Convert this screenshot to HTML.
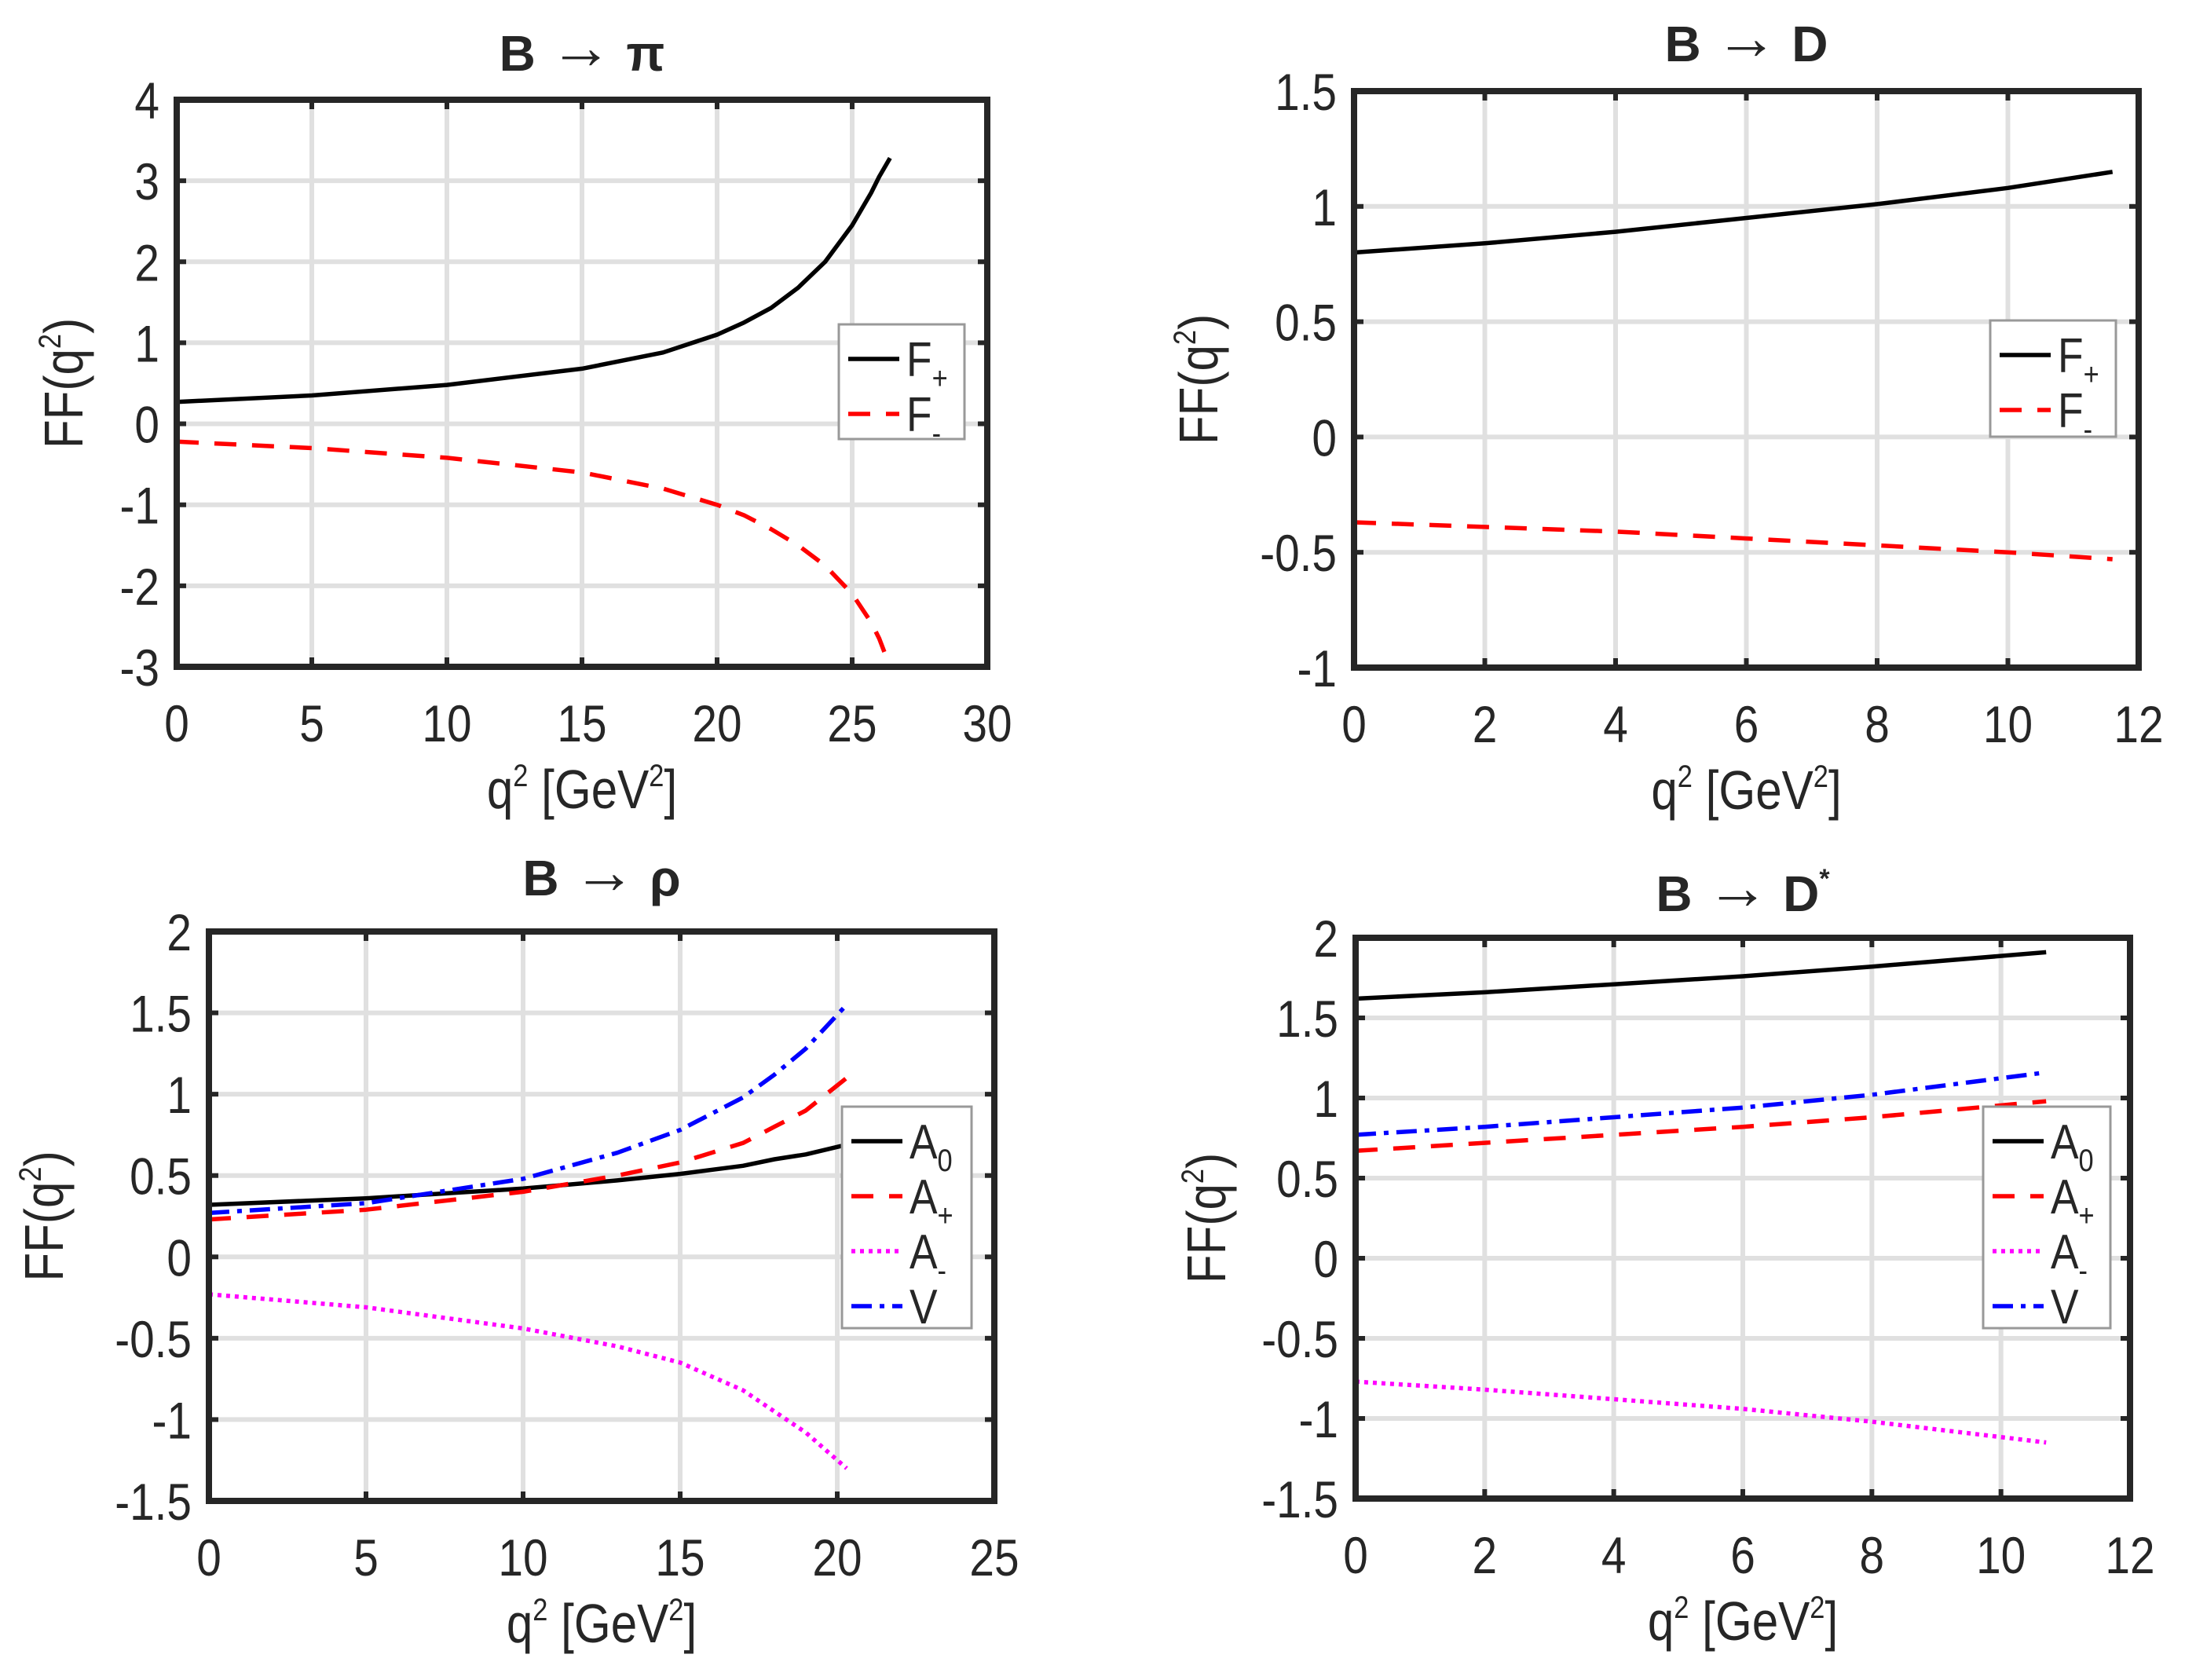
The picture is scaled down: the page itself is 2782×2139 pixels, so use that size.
<!DOCTYPE html>
<html><head><meta charset="utf-8"><style>
html,body{margin:0;padding:0;background:#fff;}
svg{display:block;}
text{font-family:"Liberation Sans Narrow","Liberation Sans",sans-serif;fill:#262626;}
</style></head><body>
<svg id="fig" width="2782" height="2139" viewBox="0 0 2782 2139" xmlns="http://www.w3.org/2000/svg"></svg>
<script>
// ---- data ----
const piQ = [0,5,10,15,18,20,21,22,23,24,25,25.7,26,26.4];
const piFplus = [0.27,0.35,0.48,0.68,0.88,1.1,1.25,1.43,1.68,2.0,2.45,2.85,3.05,3.28];
const piFminus = [-0.22,-0.3,-0.42,-0.6,-0.8,-1.0,-1.13,-1.3,-1.5,-1.75,-2.1,-2.45,-2.65,-3.0];

const dQ = [0,2,4,6,8,10,11.6];
const dFplus = [0.8,0.84,0.89,0.95,1.01,1.08,1.15];
const dFminus = [-0.37,-0.39,-0.41,-0.44,-0.47,-0.5,-0.53];

const rhoQ = [0,5,10,13,15,17,18,19,20.3];
const rhoA0 = [0.32,0.36,0.42,0.47,0.51,0.56,0.6,0.63,0.69];
const rhoAplus = [0.23,0.29,0.4,0.5,0.58,0.7,0.8,0.9,1.1];
const rhoAminus = [-0.23,-0.31,-0.44,-0.55,-0.65,-0.82,-0.95,-1.08,-1.3];
const rhoV = [0.27,0.33,0.48,0.64,0.78,0.98,1.12,1.28,1.55];

const dsQ = [0,2,4,6,8,10.7];
const dsA0 = [1.62,1.66,1.71,1.76,1.82,1.91];
const dsAplus = [0.67,0.72,0.77,0.82,0.88,0.98];
const dsAminus = [-0.77,-0.82,-0.88,-0.94,-1.02,-1.15];
const dsV = [0.77,0.82,0.88,0.94,1.02,1.16];

const piXTicks = [0,5,10,15,20,25,30];
const piYTicks = [-3,-2,-1,0,1,2,3,4];
const dXTicks = [0,2,4,6,8,10,12];
const dYTicks = [-1,-0.5,0,0.5,1,1.5];
const rhoXTicks = [0,5,10,15,20,25];
const rhoYTicks = [-1.5,-1,-0.5,0,0.5,1,1.5,2];
const dsXTicks = [0,2,4,6,8,10,12];
const dsYTicks = [-1.5,-1,-0.5,0,0.5,1,1.5,2];

const NS = "http://www.w3.org/2000/svg";
const svg = document.getElementById('fig');
function mk(tag, attrs, parent){
  const e = document.createElementNS(NS, tag);
  for (const k in attrs) e.setAttribute(k, attrs[k]);
  (parent||svg).appendChild(e);
  return e;
}
const styles = {
  solid:{stroke:'#000','stroke-dasharray':'none'},
  dash:{stroke:'#ff0000','stroke-dasharray':'28 20'},
  dot:{stroke:'#ff00ff','stroke-dasharray':'5 6'},
  dashdot:{stroke:'#0000ff','stroke-dasharray':'26 10 6 10'}
};
// narrow text helper: squeeze horizontally around anchor x
function ntext(parent, x, y, size, anchor, html, extra){
  const g = mk('g',{transform:`translate(${x} ${y}) scale(0.86 1)`},parent);
  const t = mk('text',Object.assign({x:0,y:0,'font-size':size,'text-anchor':anchor},extra||{}),g);
  t.innerHTML = html;
  return t;
}

function panel(cfg){
  const g = mk('g',{});
  
  
  const {L,R,T,B,xmin,xmax,ymin,ymax} = cfg;
  const sx = v => L + (v - xmin)/(xmax - xmin)*(R - L);
  const sy = v => B - (v - ymin)/(ymax - ymin)*(B - T);
  cfg.xt.forEach(v=>{ if(v>xmin && v<xmax){ const l=mk('line',{x1:sx(v),x2:sx(v),y1:T,y2:B,stroke:'#e0e0e0','stroke-width':6},g);
     }});
  cfg.yt.forEach(v=>{ if(v>ymin && v<ymax){ const l=mk('line',{x1:L,x2:R,y1:sy(v),y2:sy(v),stroke:'#e0e0e0','stroke-width':6},g);
     }});
  cfg.series.forEach(s=>{
    const pts = s.x.map((q,i)=>sx(q).toFixed(1)+','+sy(s.y[i]).toFixed(1)).join(' ');
    const st = styles[s.style];
    const p = mk('polyline',{points:pts,fill:'none',stroke:st.stroke,'stroke-width':5.5,'stroke-dasharray':st['stroke-dasharray'],'stroke-linejoin':'round'},g);
    
    
  });
  cfg.xt.forEach(v=>{
    mk('line',{x1:sx(v),x2:sx(v),y1:B,y2:B-12,stroke:'#262626','stroke-width':6},g);
    mk('line',{x1:sx(v),x2:sx(v),y1:T,y2:T+12,stroke:'#262626','stroke-width':6},g);
    const t = ntext(g, sx(v), B+95, 66, 'middle', String(v));
    
    
  });
  cfg.yt.forEach(v=>{
    mk('line',{x1:L,x2:L+12,y1:sy(v),y2:sy(v),stroke:'#262626','stroke-width':6},g);
    mk('line',{x1:R,x2:R-12,y1:sy(v),y2:sy(v),stroke:'#262626','stroke-width':6},g);
    const t = ntext(g, L-22, sy(v)+24, 66, 'end', String(v));
    
    
  });
  const box = mk('rect',{x:L,y:T,width:R-L,height:B-T,fill:'none',stroke:'#262626','stroke-width':8},g);
  
  
  const ti = mk('text',{x:(L+R)/2,y:cfg.titleY,'font-size':64,'font-weight':'bold','text-anchor':'middle','font-family':'Liberation Sans, sans-serif'},g);
  ti.innerHTML = cfg.title;
  
  
  const xl = ntext(g,(L+R)/2,B+180,70,'middle','q<tspan dy="-28" font-size="40">2</tspan><tspan dy="28"> [GeV</tspan><tspan dy="-28" font-size="40">2</tspan><tspan dy="28">]</tspan>');
  
  
  const yx = cfg.ylabX, yy=(T+B)/2;
  const yg = mk('g',{transform:`translate(${yx} ${yy}) rotate(-90) scale(0.86 1)`},g);
  const yl = mk('text',{x:0,y:0,'font-size':70,'text-anchor':'middle'},yg);
  yl.innerHTML = 'FF(q<tspan dy="-28" font-size="40">2</tspan><tspan dy="28">)</tspan>';
  
  
  const lg = cfg.legend;
  const lgg = mk('g',{},g);
  
  
  mk('rect',{x:lg.x,y:lg.y,width:lg.w,height:lg.h,fill:'#fff',stroke:'#999','stroke-width':3},lgg);
  cfg.series.forEach((s,i)=>{
    const cy = lg.y + 44 + i*70;
    const st = styles[s.style];
    mk('line',{x1:lg.x+12,x2:lg.x+77,y1:cy,y2:cy,stroke:st.stroke,'stroke-width':5.5,'stroke-dasharray':st['stroke-dasharray']},lgg);
    const t = ntext(lgg, lg.x+86, cy+22, 62, 'start', s.label, {fill:'#000'});
    
    
  });
}

const sub = s => `<tspan dy="16" font-size="40">${s}</tspan>`;
const arrow = '<tspan font-size="80" dy="-3">→</tspan><tspan dy="3"> </tspan>';

panel({name:'panel-b-to-pi',L:225,R:1257,T:127,B:849,xmin:0,xmax:30,ymin:-3,ymax:4,
  xt:piXTicks,yt:piYTicks,title:'B '+arrow+'π',titleY:90,ylabX:105,
  legend:{x:1068,y:413,w:160,h:146},
  series:[{name:'f-plus',x:piQ,y:piFplus,style:'solid',label:'F'+sub('+')},
          {name:'f-minus',x:piQ,y:piFminus,style:'dash',label:'F'+sub('-')}]});

panel({name:'panel-b-to-d',L:1724,R:2723,T:116,B:850,xmin:0,xmax:12,ymin:-1,ymax:1.5,
  xt:dXTicks,yt:dYTicks,title:'B '+arrow+'D',titleY:78,ylabX:1550,
  legend:{x:2534,y:408,w:160,h:148},
  series:[{name:'f-plus',x:dQ,y:dFplus,style:'solid',label:'F'+sub('+')},
          {name:'f-minus',x:dQ,y:dFminus,style:'dash',label:'F'+sub('-')}]});

panel({name:'panel-b-to-rho',L:266,R:1266,T:1186,B:1911,xmin:0,xmax:25,ymin:-1.5,ymax:2,
  xt:rhoXTicks,yt:rhoYTicks,title:'B '+arrow+'ρ',titleY:1140,ylabX:80,
  legend:{x:1072,y:1409,w:165,h:282},
  series:[{name:'a0',x:rhoQ,y:rhoA0,style:'solid',label:'A'+sub('0')},
          {name:'a-plus',x:rhoQ,y:rhoAplus,style:'dash',label:'A'+sub('+')},
          {name:'a-minus',x:rhoQ,y:rhoAminus,style:'dot',label:'A'+sub('-')},
          {name:'v',x:rhoQ,y:rhoV,style:'dashdot',label:'V'}]});

panel({name:'panel-b-to-dstar',L:1726,R:2712,T:1194,B:1908,xmin:0,xmax:12,ymin:-1.5,ymax:2,
  xt:dsXTicks,yt:dsYTicks,title:'B '+arrow+'D<tspan dy="-30" font-size="34">*</tspan>',titleY:1160,ylabX:1560,
  legend:{x:2525,y:1409,w:162,h:282},
  series:[{name:'a0',x:dsQ,y:dsA0,style:'solid',label:'A'+sub('0')},
          {name:'a-plus',x:dsQ,y:dsAplus,style:'dash',label:'A'+sub('+')},
          {name:'a-minus',x:dsQ,y:dsAminus,style:'dot',label:'A'+sub('-')},
          {name:'v',x:dsQ,y:dsV,style:'dashdot',label:'V'}]});
</script>
</body></html>
